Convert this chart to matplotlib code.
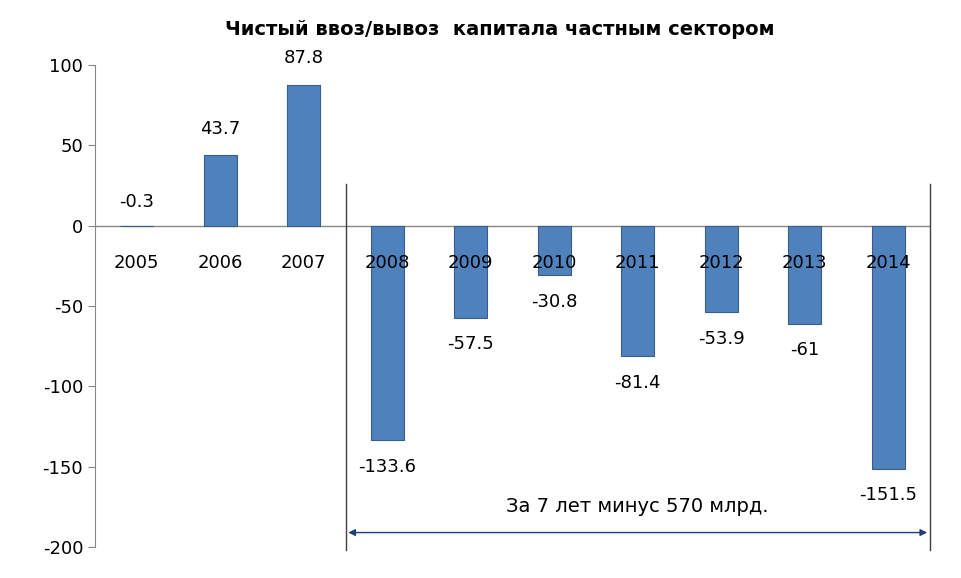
import matplotlib.pyplot as plt
import numpy as np

# data
years = ['2005', '2006', '2007', '2008', '2009', '2010', '2011', '2012', '2013', '2014']
values = [-0.3, 43.7, 87.8, -133.6, -57.5, -30.8, -81.4, -53.9, -61, -151.5]
value_labels = ['-0.3', '43.7', '87.8', '-133.6', '-57.5', '-30.8', '-81.4', '-53.9', '-61', '-151.5']
yticks = [100, 50, 0, -50, -100, -150, -200]

fig = plt.figure(figsize=(9.62, 5.78), dpi=100)
ax = fig.add_axes([0.0988, 0.0536, 0.8679, 0.8339])

x = np.arange(len(years))
ax.bar(x, values, width=0.4, color='#4F81BD', edgecolor='#385D8A', linewidth=0.8, zorder=3)

ax.set_xlim(-0.5, len(years) - 0.5)
ax.set_ylim(-200, 100)
ax.set_yticks(yticks)
ax.set_yticklabels([str(t) for t in yticks], fontsize=13)
ax.tick_params(axis='y', direction='out', length=5, color='#868686')
ax.set_xticks([])
for s in ['top', 'right', 'bottom']:
    ax.spines[s].set_visible(False)
ax.spines['left'].set_color('#868686')
ax.axhline(0, color='#868686', linewidth=1, zorder=2)

# year labels just below the zero line
for i, yr in enumerate(years):
    ax.text(i, -23, yr, ha='center', va='center', fontsize=13, zorder=4)

# value labels (tiny values sit above the axis)
for i, (v, lab) in enumerate(zip(values, value_labels)):
    if v >= 0:
        ax.annotate(lab, (i, v), xytext=(0, 19), textcoords='offset points',
                    ha='center', va='center', fontsize=13, zorder=4)
    elif v > -5:
        ax.annotate(lab, (i, 0), xytext=(0, 17), textcoords='offset points',
                    ha='center', va='center', fontsize=13, zorder=4)
    else:
        ax.annotate(lab, (i, v), xytext=(0, -19), textcoords='offset points',
                    ha='center', va='center', fontsize=13, zorder=4)

# bracket for 2008-2014
xl, xr = 2.5, 9.5
ax.plot([xl, xl], [-202, 26], color='#404040', linewidth=1, clip_on=False)
ax.plot([xr, xr], [-202, 26], color='#404040', linewidth=1, clip_on=False)
ax.annotate('', xy=(xl, -191), xytext=(xr, -191),
            arrowprops=dict(arrowstyle='<|-|>', color='#1F3D7A', lw=1, mutation_scale=10))
ax.text((xl + xr) / 2, -175, 'За 7 лет минус 570 млрд.', ha='center', va='center', fontsize=14)

fig.suptitle('Чистый ввоз/вывоз  капитала частным сектором', x=0.52, y=0.965,
             fontsize=14, fontweight='bold')

fig.savefig('out.png', dpi=100)
